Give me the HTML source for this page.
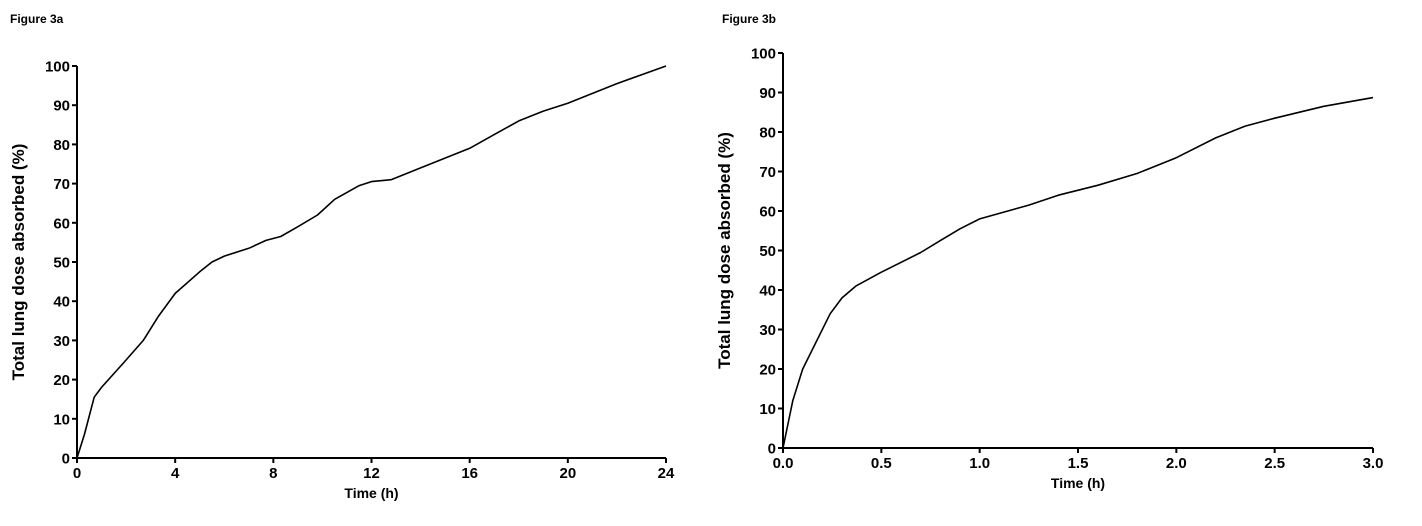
<!DOCTYPE html>
<html><head><meta charset="utf-8"><style>
body{margin:0;background:#fff;width:1422px;height:521px;overflow:hidden;font-family:"Liberation Sans",Arial,sans-serif}
svg text{font-family:"Liberation Sans",Arial,sans-serif;font-weight:bold;fill:#000}
</style></head><body>
<svg id="svg" width="1422" height="521">
<text x="10" y="23" font-size="12">Figure 3a</text>
<text x="722" y="23" font-size="12">Figure 3b</text>
</svg>
<script>
const aTimes=[0,0.3,0.7,1,2,2.7,3.3,4,5,5.5,6,7,7.7,8.3,9,9.8,10.5,11.5,12,12.8,14,16,17,18,19,20,22,24];
const aValues=[0,6,15.5,18,25,30,36,42,47.5,50,51.5,53.5,55.5,56.5,59,62,66,69.5,70.5,71,74,79,82.5,86,88.5,90.5,95.5,100];
const aXTicks=[0,4,8,12,16,20,24];
const bTimes=[0,0.05,0.1,0.24,0.3,0.37,0.5,0.7,0.8,0.9,1.0,1.25,1.4,1.6,1.8,2.0,2.2,2.35,2.5,2.75,3.0];
const bValues=[0,12,20,34,38,41,44.5,49.5,52.5,55.5,58,61.5,64,66.5,69.5,73.5,78.5,81.5,83.5,86.5,88.7];
const bXTicks=[0,0.5,1,1.5,2,2.5,3];
const yTicks=[0,10,20,30,40,50,60,70,80,90,100];
const NS="http://www.w3.org/2000/svg";
const svg=document.getElementById('svg');
function mk(t,a,p){const e=document.createElementNS(NS,t);for(const k in a)e.setAttribute(k,a[k]);(p||svg).appendChild(e);return e;}
function chart(id,x0,x1,xmax,y0,y1,times,vals,xt,dec){
  const g=mk('g',{});
  
  
  const X=v=>x0+(x1-x0)*v/xmax, Y=v=>y0-(y0-y1)*v/100;
  const ax=mk('line',{x1:x0,y1:y0,x2:x1,y2:y0,stroke:'#000','stroke-width':2},g);
  
  
  const ay=mk('line',{x1:x0,y1:y0+1,x2:x0,y2:y1,stroke:'#000','stroke-width':2},g);
  
  
  yTicks.forEach(v=>{
    mk('line',{x1:x0-5,y1:Y(v),x2:x0,y2:Y(v),stroke:'#000','stroke-width':2},g);
    const t=mk('text',{x:x0-7,y:Y(v)+5.5,'text-anchor':'end','font-size':15},g);
    
    
    t.textContent=v;
  });
  xt.forEach(v=>{
    mk('line',{x1:X(v),y1:y0,x2:X(v),y2:y0+5,stroke:'#000','stroke-width':2},g);
    const t=mk('text',{x:X(v),y:y0+20,'text-anchor':'middle','font-size':15},g);
    
    
    t.textContent=dec?v.toFixed(1):v;
  });
  const xl=mk('text',{x:(x0+x1)/2,y:y0+40,'text-anchor':'middle','font-size':14},g);
  
  
  xl.textContent='Time (h)';
  const yc=(y0+y1)/2;
  const yl=mk('text',{x:x0-53,y:yc,'text-anchor':'middle','font-size':17,transform:`rotate(-90 ${x0-53} ${yc})`},g);
  
  
  yl.textContent='Total lung dose absorbed (%)';
  const d=times.map((t,i)=>(i?'L':'M')+X(t).toFixed(1)+','+Y(vals[i]).toFixed(1)).join('');
  const p=mk('path',{d:d,fill:'none',stroke:'#000','stroke-width':1.6,'stroke-linejoin':'round'},g);
  
  
}
chart('chart-3a',77,666,24,458,66,aTimes,aValues,aXTicks,false);
chart('chart-3b',783,1373,3,448,53,bTimes,bValues,bXTicks,true);
</script>
</body></html>
